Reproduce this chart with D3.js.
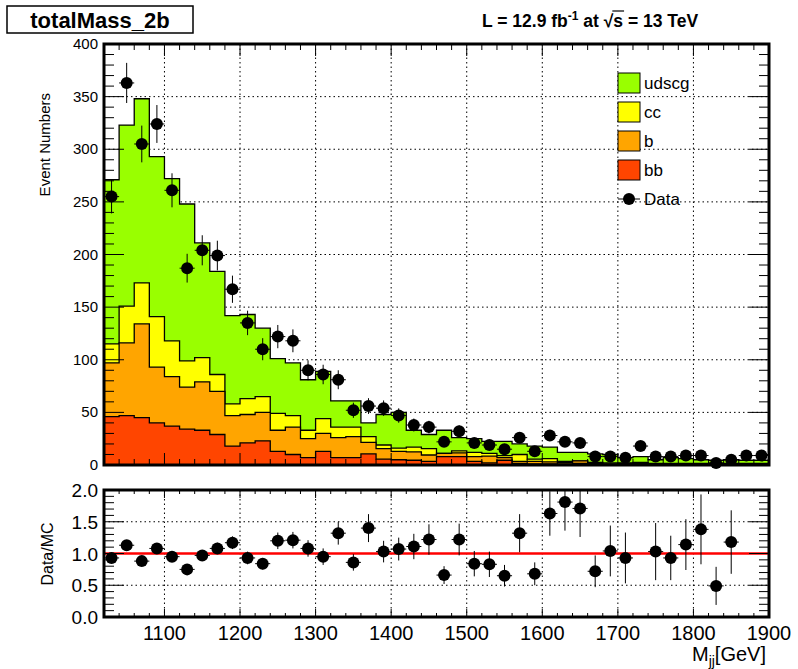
<!DOCTYPE html>
<html>
<head>
<meta charset="utf-8">
<script src="https://cdn.jsdelivr.net/npm/d3@7"></script>
<style>
  body { margin: 0; background: #fff; }
  text { font-family: "Liberation Sans", Arial, sans-serif; }
</style>
</head>
<body>
<div id="wrapper"></div>
<script>
// bins: 20 GeV wide from 1020 to 1900
const binLow = d3.range(1020, 1900, 20);

const bb = [46,47,45,40,37,34,33,29,18,21,23,13,10,7,13,7,
  7,10.5,5.5,5,4.5,3.5,8,8,3.5,2,4.5,1.5,1,1,1,1.5,0.5,0.5,0.5,0.5,0.5,0.5,0.5,0.5,0.5,0.5,0.5,0.5];
const b = [51,69,89,53,47,40,46,41,29,27,27,20,26,18,17,19,
  20,11,10,8,8,6,3,3.5,4.5,6.5,2.5,2,2.5,2,1.5,2.5,1,0.5,1,1,0.5,0.5,0.5,0.5,0.5,0.5,0.5,0.5];
const cc = [18,35,39,48,34,25,23,16,11,15,15,16,11,8,14,10,
  9,5.5,3.5,3,4.5,6,0,2,4,2.5,2,6.5,2,3,1,0,1,1,0.5,1,0.5,0.5,0.5,0.5,0.5,0.5,0.5,0.5];
const udscg = [156,172,175,152,154,149,109,98,84,80,65,52,50,48,45,25,
  25,13,29,34,16,13.5,22,12.5,13,11.5,13.5,10,12.5,11,8.5,8,8,8,5,5.5,3.5,5.5,4.5,3.5,3,3.5,3,3];
const dataCounts = [255,363,305,324,261,187,204,199,167,135,110,122,118,90,86,81,
  52,56,54,47,38,36,22,32,21,19,15,26,13,28,22,21,8,8,7,18,8,8,9,9,2,5,9,9];

// ratio panel (null = no point)
const ratio = [0.93,1.13,0.88,1.08,0.95,0.75,0.97,1.08,1.17,0.93,0.84,1.2,1.21,1.08,0.95,1.32,0.86,1.4,1.03,1.07,1.11,1.22,
  0.66,1.22,0.84,0.83,0.65,1.32,0.68,1.63,1.81,1.71,0.72,1.04,0.93,null,1.03,0.93,1.14,1.38,0.49,1.18,null,null];
const ratioErr = [0.06,0.07,0.07,0.08,0.08,0.07,0.08,0.09,0.1,0.1,0.09,0.13,0.13,0.13,0.13,0.18,0.13,0.22,0.17,0.18,0.2,0.24,
  0.14,0.25,0.2,0.2,0.17,0.3,0.18,0.35,0.45,0.45,0.25,0.4,0.4,0,0.45,0.35,0.4,0.55,0.3,0.5,0,0];

const yTicks = [0,50,100,150,200,250,300,350,400];
const rTicks = [0,0.5,1,1.5,2];
const xTicks = [1100,1200,1300,1400,1500,1600,1700,1800,1900];

const series = [
  { name: "bb", values: bb, color: "#ff4500" },
  { name: "b", values: b, color: "#ffa500" },
  { name: "cc", values: cc, color: "#ffff00" },
  { name: "udscg", values: udscg, color: "#99ff00" },
];

const W = 798, H = 669;
const svg = d3.select("#wrapper").append("svg").attr("width", W).attr("height", H);

const xScale = d3.scaleLinear().domain([1020, 1900]).range([104, 769]);
const yScale = d3.scaleLinear().domain([0, 400]).range([465, 44]);
const rScale = d3.scaleLinear().domain([0, 2]).range([617, 490]);

// grids
function grid(yS, yVals, top, bottom) {
  const g = svg.append("g").attr("stroke", "#000").attr("stroke-dasharray", "1.5,3").attr("stroke-width", 1);
  xTicks.slice(0, -1).forEach(v => g.append("line").attr("x1", xScale(v)).attr("x2", xScale(v)).attr("y1", top).attr("y2", bottom));
  yVals.forEach(v => g.append("line").attr("x1", 104).attr("x2", 769).attr("y1", yS(v)).attr("y2", yS(v)));
}
grid(yScale, yTicks.slice(1, -1), 44, 465);
grid(rScale, rTicks.slice(1, -1), 490, 617);

// stacked histogram
const stackData = binLow.map((x, i) => {
  const o = { x };
  series.forEach(s => o[s.name] = s.values[i]);
  return o;
});
const stacked = d3.stack().keys(series.map(s => s.name))(stackData);

const bounds = svg.append("g");
stacked.slice().reverse().forEach(layer => {
  const s = series.find(d => d.name === layer.key);
  const pts = layer.map((d, i) => ({ x: binLow[i], y: d[1] }));
  pts.push({ x: 1900, y: pts[pts.length - 1].y });
  const area = d3.area().curve(d3.curveStepAfter)
    .x(d => xScale(d.x)).y0(yScale(0)).y1(d => yScale(d.y));
  const line = d3.line().curve(d3.curveStepAfter)
    .x(d => xScale(d.x)).y(d => yScale(d.y));
  bounds.append("path").attr("d", area(pts)).attr("fill", s.color);
  bounds.append("path").attr("d", line(pts)).attr("fill", "none").attr("stroke", "#000").attr("stroke-width", 1.3);
});

// data points
const dg = svg.append("g");
dataCounts.forEach((n, i) => {
  const cx = xScale(binLow[i] + 10), cy = yScale(n), e = Math.sqrt(n);
  dg.append("line").attr("x1", cx).attr("x2", cx).attr("y1", yScale(Math.min(n + e, 400))).attr("y2", yScale(Math.max(n - e, 0))).attr("stroke", "#000");
  dg.append("line").attr("x1", xScale(binLow[i])).attr("x2", xScale(binLow[i] + 20)).attr("y1", cy).attr("y2", cy).attr("stroke", "#000");
  dg.append("circle").attr("cx", cx).attr("cy", cy).attr("r", 6).attr("fill", "#000");
});

// ratio
svg.append("line").attr("x1", 104).attr("x2", 769).attr("y1", rScale(1)).attr("y2", rScale(1)).attr("stroke", "#ff0000").attr("stroke-width", 2.5);
const rg = svg.append("g");
ratio.forEach((r, i) => {
  if (r === null) return;
  const cx = xScale(binLow[i] + 10), cy = rScale(r), e = ratioErr[i];
  rg.append("line").attr("x1", cx).attr("x2", cx).attr("y1", rScale(Math.min(r + e, 2))).attr("y2", rScale(Math.max(r - e, 0))).attr("stroke", "#000");
  rg.append("line").attr("x1", xScale(binLow[i])).attr("x2", xScale(binLow[i] + 20)).attr("y1", cy).attr("y2", cy).attr("stroke", "#000");
  rg.append("circle").attr("cx", cx).attr("cy", cy).attr("r", 6).attr("fill", "#000");
});

// ticks
function ticks(yS, top, bottom, majorY, minorY, majLen, minLen) {
  const g = svg.append("g").attr("stroke", "#000").attr("stroke-width", 1);
  d3.range(1020, 1901, 20).forEach(v => {
    const len = v % 100 === 0 ? majLen : minLen;
    g.append("line").attr("x1", xScale(v)).attr("x2", xScale(v)).attr("y1", bottom).attr("y2", bottom - len);
    g.append("line").attr("x1", xScale(v)).attr("x2", xScale(v)).attr("y1", top).attr("y2", top + len);
  });
  minorY.forEach(v => {
    const len = majorY.includes(v) ? 20 : 10;
    g.append("line").attr("x1", 104).attr("x2", 104 + len).attr("y1", yS(v)).attr("y2", yS(v));
    g.append("line").attr("x1", 769).attr("x2", 769 - len).attr("y1", yS(v)).attr("y2", yS(v));
  });
}
ticks(yScale, 44, 465, yTicks, d3.range(0, 401, 10), 12, 6);
ticks(rScale, 490, 617, rTicks, d3.range(0, 2.01, 0.1).map(v => +v.toFixed(1)), 8, 4);

// frames
svg.append("rect").attr("x", 104).attr("y", 44).attr("width", 665).attr("height", 421).attr("fill", "none").attr("stroke", "#000").attr("stroke-width", 3);
svg.append("rect").attr("x", 104).attr("y", 490).attr("width", 665).attr("height", 127).attr("fill", "none").attr("stroke", "#000").attr("stroke-width", 3);

// tick labels
yTicks.forEach(v => svg.append("text").attr("x", 98).attr("y", yScale(v) + 5).attr("text-anchor", "end").style("font-size", "15px").text(v));
rTicks.forEach(v => svg.append("text").attr("x", 98).attr("y", rScale(v) + 7).attr("text-anchor", "end").style("font-size", "19px").text(v.toFixed(1)));
xTicks.forEach(v => svg.append("text").attr("x", xScale(v)).attr("y", 640).attr("text-anchor", "middle").style("font-size", "20px").text(v));

// axis titles
svg.append("text").attr("transform", "translate(50,93) rotate(-90)").attr("text-anchor", "end").style("font-size", "15px").text("Event Numbers");
svg.append("text").attr("transform", "translate(53,554) rotate(-90)").attr("text-anchor", "middle").style("font-size", "16px").text("Data/MC");
const xt = svg.append("text").attr("x", 766).attr("y", 661).attr("text-anchor", "end").style("font-size", "20px");
xt.append("tspan").text("M");
xt.append("tspan").attr("dy", 5).style("font-size", "14px").text("jj");
xt.append("tspan").attr("dy", -5).text("[GeV]");

// title box
svg.append("rect").attr("x", 7).attr("y", 6).attr("width", 186).attr("height", 27).attr("fill", "#fff").attr("stroke", "#000").attr("stroke-width", 1.5);
svg.append("text").attr("x", 100).attr("y", 28).attr("text-anchor", "middle").style("font-size", "22px").style("font-weight", "bold").text("totalMass_2b");

// lumi
const lt = svg.append("text").attr("x", 482).attr("y", 27).style("font-size", "17.5px").style("font-weight", "bold");
lt.append("tspan").text("L = 12.9 fb");
lt.append("tspan").attr("dy", -7).style("font-size", "12px").text("-1");
lt.append("tspan").attr("dy", 7).text(" at  \u221A");
const sSpan = lt.append("tspan").text("s");
lt.append("tspan").text(" = 13 TeV");
const sBox = sSpan.node().getExtentOfChar ? null : null;
const sStart = sSpan.node().getStartPositionOfChar(0).x;
const sEnd = sSpan.node().getEndPositionOfChar(0).x;
svg.append("line").attr("x1", sStart - 1).attr("x2", sEnd + 1).attr("y1", 11).attr("y2", 11).attr("stroke", "#000").attr("stroke-width", 1.2);

// legend
const legend = svg.append("g");
series.slice().reverse().forEach((s, i) => {
  const y = 83 + i * 29;
  legend.append("rect").attr("x", 618).attr("y", y - 10).attr("width", 22).attr("height", 20).attr("fill", s.color).attr("stroke", "#000");
  legend.append("text").attr("x", 644).attr("y", y + 6).style("font-size", "17px").text(s.name);
});
legend.append("line").attr("x1", 618).attr("x2", 640).attr("y1", 199).attr("y2", 199).attr("stroke", "#000");
legend.append("circle").attr("cx", 629).attr("cy", 199).attr("r", 6).attr("fill", "#000");
legend.append("text").attr("x", 644).attr("y", 205).style("font-size", "17px").text("Data");
</script>
</body>
</html>
